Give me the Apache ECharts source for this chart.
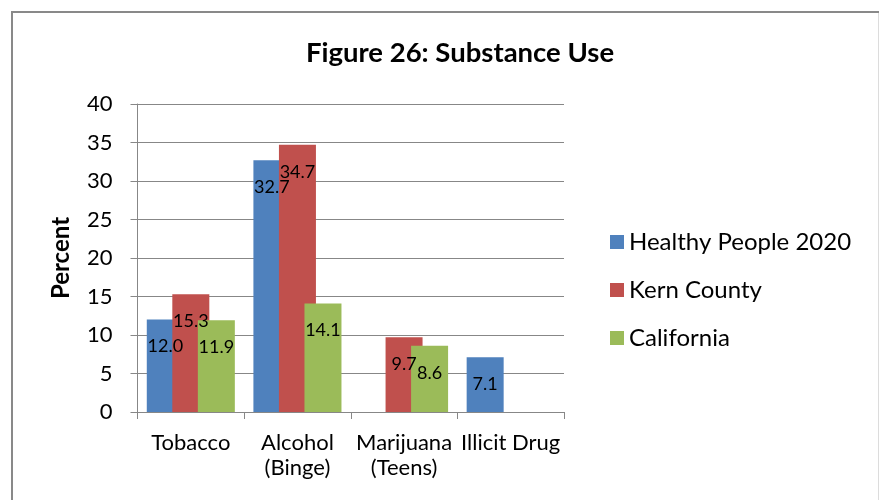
<!DOCTYPE html>
<html>
<head>
<meta charset="utf-8">
<script src="https://cdn.jsdelivr.net/npm/echarts@6/dist/echarts.min.js"></script>
<style>
  html, body { margin: 0; padding: 0; background: #fff; }
  #chart { width: 879px; height: 500px; }
</style>
</head>
<body>
<div id="chart"></div>
<script>
// Substance use by source, percent
const categories = ['Tobacco', 'Alcohol\n(Binge)', 'Marijuana\n(Teens)', 'Illicit Drug'];
const healthyPeople2020 = [12.0, 32.7, null, 7.1];
const kernCounty = [15.3, 34.7, 9.7, null];
const california = [11.9, 14.1, 8.6, null];
const yTicks = { min: 0, max: 40, interval: 5 };

const FONT = 'Lato, "Open Sans", sans-serif';
const GRID_GRAY = '#878787';

const chart = echarts.init(document.getElementById('chart'), null, { renderer: 'canvas' });

function barSeries(name, data, color) {
  return {
    name: name,
    type: 'bar',
    data: data,
    barWidth: 37,
    barGap: '-31%',
    itemStyle: { color: color },
    label: {
      show: true,
      position: ['50%', 27],
      align: 'center',
      verticalAlign: 'middle',
      color: '#000',
      fontFamily: FONT,
      fontSize: 18,
      formatter: p => (p.value == null ? '' : p.value.toFixed(1))
    }
  };
}

chart.setOption({
  animation: false,
  title: {
    text: 'Figure 26: Substance Use',
    left: 455,
    top: 34,
    textAlign: 'center',
    textStyle: { fontFamily: FONT, fontWeight: 'bold', fontSize: 27.5, color: '#000' }
  },
  graphic: [
    {
      type: 'polyline',
      shape: { points: [[12, 520], [12, 12], [879, 12]] },
      style: { stroke: '#898989', lineWidth: 2, fill: null }
    },
    {
      type: 'line',
      shape: { x1: 878.5, y1: 13, x2: 878.5, y2: 500 },
      style: { stroke: '#dcdcdc', lineWidth: 1 }
    }
  ],
  legend: {
    orient: 'vertical',
    left: 605,
    top: 225,
    itemWidth: 14,
    itemHeight: 14,
    itemGap: 24,
    icon: 'rect',
    textStyle: { fontFamily: FONT, fontSize: 24, lineHeight: 24, color: '#000' },
    data: ['Healthy People 2020', 'Kern County', 'California']
  },
  grid: { left: 137.5, right: 315, top: 104, bottom: 88 },
  xAxis: {
    type: 'category',
    data: categories,
    axisLine: { lineStyle: { color: GRID_GRAY, width: 1 } },
    axisTick: { show: true, length: 7, lineStyle: { color: GRID_GRAY } },
    axisLabel: {
      fontFamily: FONT, fontSize: 22, color: '#000', margin: 18, lineHeight: 25, interval: 0
    }
  },
  yAxis: {
    type: 'value',
    min: yTicks.min,
    max: yTicks.max,
    interval: yTicks.interval,
    name: 'Percent',
    nameLocation: 'middle',
    nameGap: 64,
    nameRotate: 90,
    nameTextStyle: { fontFamily: FONT, fontWeight: 'bold', fontSize: 24, color: '#000' },
    axisLine: { show: true, lineStyle: { color: GRID_GRAY, width: 1 } },
    axisTick: { show: true, length: 7, lineStyle: { color: GRID_GRAY } },
    splitLine: { lineStyle: { color: GRID_GRAY, width: 1 } },
    axisLabel: { fontFamily: FONT, fontSize: 22, color: '#000', margin: 25 }
  },
  series: [
    barSeries('Healthy People 2020', healthyPeople2020, '#4F81BD'),
    barSeries('Kern County', kernCounty, '#C0504D'),
    barSeries('California', california, '#9BBB59')
  ]
});
</script>
</body>
</html>
